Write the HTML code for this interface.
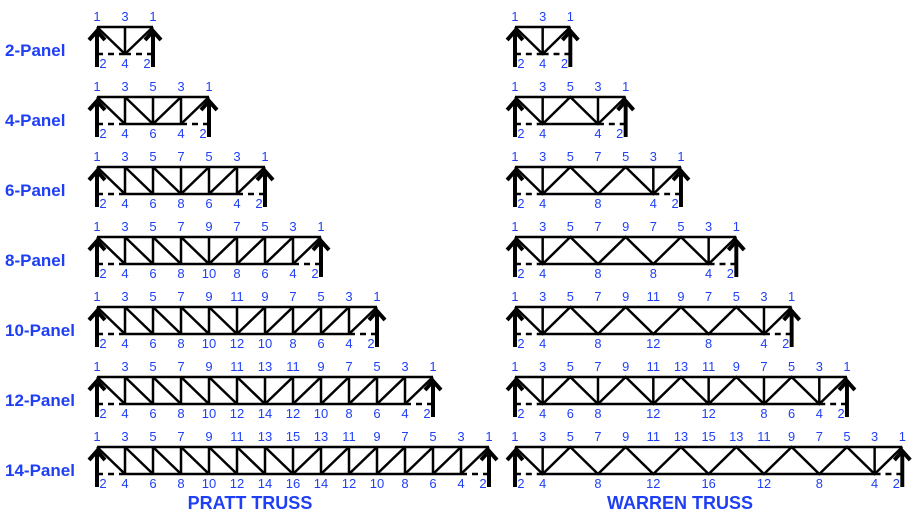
<!DOCTYPE html>
<html><head><meta charset="utf-8"><style>
body{margin:0;background:#fff;width:916px;height:516px;overflow:hidden}
svg{display:block}
.s{fill:none;stroke:#000;stroke-width:2.5}
.d{fill:none;stroke:#000;stroke-width:2.5;stroke-dasharray:6 5}
.a{fill:none;stroke:#000;stroke-width:4;stroke-linejoin:miter}
text{font-family:"Liberation Sans",Arial,sans-serif;fill:#1f3ff5}
.t text{font-size:13px;text-anchor:middle}
.lab{font-size:17px;font-weight:bold}
.ft{font-size:18px;font-weight:bold;text-anchor:middle}
</style></head><body>
<svg width="916" height="516" viewBox="0 0 916 516">
<defs><g id="ar"><path class="a" d="M0 3V40"/><path class="a" d="M-8 13L0 4L8 13"/></g></defs>
<text class="lab" x="5" y="56">2-Panel</text>
<text class="lab" x="5" y="126">4-Panel</text>
<text class="lab" x="5" y="196">6-Panel</text>
<text class="lab" x="5" y="266">8-Panel</text>
<text class="lab" x="5" y="336">10-Panel</text>
<text class="lab" x="5" y="406">12-Panel</text>
<text class="lab" x="5" y="476">14-Panel</text>
<text class="ft" x="250" y="509">PRATT TRUSS</text>
<text class="ft" x="680" y="509">WARREN TRUSS</text>

<!-- Row 0 n=2 -->
<g class="t" transform="translate(97,27)">
<path class="d" d="M0 27h28M28 27h28"/>
<path class="s" d="M0 0H56M28 0v27M0 0l28 27M56 0l-28 27"/>
<use href="#ar"/><use href="#ar" x="56"/>
<text x="0" y="-6">1</text><text x="28" y="-6">3</text><text x="56" y="-6">1</text>
<text x="6" y="41">2</text><text x="28" y="41">4</text><text x="50" y="41">2</text>
</g>
<g class="t" transform="translate(515,27) scale(0.988,1)">
<path class="d" d="M0 27h28M28 27h28"/>
<path class="s" d="M0 0H56M28 0v27M0 0l28 27l28 -27"/>
<use href="#ar"/><use href="#ar" x="56"/>
<text x="0" y="-6">1</text><text x="28" y="-6">3</text><text x="56" y="-6">1</text>
<text x="6" y="41">2</text><text x="28" y="41">4</text><text x="50" y="41">2</text>
</g>

<!-- Row 1 n=4 -->
<g class="t" transform="translate(97,97)">
<path class="d" d="M0 27h28M84 27h28"/>
<path class="s" d="M0 0H112M28 27H84M28 0v27M56 0v27M84 0v27M0 0l28 27M28 0l28 27M112 0l-28 27M84 0l-28 27"/>
<use href="#ar"/><use href="#ar" x="112"/>
<text x="0" y="-6">1</text><text x="28" y="-6">3</text><text x="56" y="-6">5</text><text x="84" y="-6">3</text><text x="112" y="-6">1</text>
<text x="6" y="41">2</text><text x="28" y="41">4</text><text x="56" y="41">6</text><text x="84" y="41">4</text><text x="106" y="41">2</text>
</g>
<g class="t" transform="translate(515,97) scale(0.988,1)">
<path class="d" d="M0 27h28M84 27h28"/>
<path class="s" d="M0 0H112M28 27H84M28 0v27M84 0v27M0 0l28 27l28 -27l28 27l28 -27"/>
<use href="#ar"/><use href="#ar" x="112"/>
<text x="0" y="-6">1</text><text x="28" y="-6">3</text><text x="56" y="-6">5</text><text x="84" y="-6">3</text><text x="112" y="-6">1</text>
<text x="6" y="41">2</text><text x="28" y="41">4</text><text x="84" y="41">4</text><text x="106" y="41">2</text>
</g>

<!-- Row 2 n=6 -->
<g class="t" transform="translate(97,167)">
<path class="d" d="M0 27h28M140 27h28"/>
<path class="s" d="M0 0H168M28 27H140M28 0v27M56 0v27M84 0v27M112 0v27M140 0v27M0 0l28 27M28 0l28 27M56 0l28 27M168 0l-28 27M140 0l-28 27M112 0l-28 27"/>
<use href="#ar"/><use href="#ar" x="168"/>
<text x="0" y="-6">1</text><text x="28" y="-6">3</text><text x="56" y="-6">5</text><text x="84" y="-6">7</text><text x="112" y="-6">5</text><text x="140" y="-6">3</text><text x="168" y="-6">1</text>
<text x="6" y="41">2</text><text x="28" y="41">4</text><text x="56" y="41">6</text><text x="84" y="41">8</text><text x="112" y="41">6</text><text x="140" y="41">4</text><text x="162" y="41">2</text>
</g>
<g class="t" transform="translate(515,167) scale(0.988,1)">
<path class="d" d="M0 27h28M140 27h28"/>
<path class="s" d="M0 0H168M28 27H140M28 0v27M140 0v27M0 0l28 27l28 -27l28 27l28 -27l28 27l28 -27"/>
<use href="#ar"/><use href="#ar" x="168"/>
<text x="0" y="-6">1</text><text x="28" y="-6">3</text><text x="56" y="-6">5</text><text x="84" y="-6">7</text><text x="112" y="-6">5</text><text x="140" y="-6">3</text><text x="168" y="-6">1</text>
<text x="6" y="41">2</text><text x="28" y="41">4</text><text x="84" y="41">8</text><text x="140" y="41">4</text><text x="162" y="41">2</text>
</g>

<!-- Row 3 n=8 -->
<g class="t" transform="translate(97,237)">
<path class="d" d="M0 27h28M196 27h28"/>
<path class="s" d="M0 0H224M28 27H196M28 0v27M56 0v27M84 0v27M112 0v27M140 0v27M168 0v27M196 0v27M0 0l28 27M28 0l28 27M56 0l28 27M84 0l28 27M224 0l-28 27M196 0l-28 27M168 0l-28 27M140 0l-28 27"/>
<use href="#ar"/><use href="#ar" x="224"/>
<text x="0" y="-6">1</text><text x="28" y="-6">3</text><text x="56" y="-6">5</text><text x="84" y="-6">7</text><text x="112" y="-6">9</text><text x="140" y="-6">7</text><text x="168" y="-6">5</text><text x="196" y="-6">3</text><text x="224" y="-6">1</text>
<text x="6" y="41">2</text><text x="28" y="41">4</text><text x="56" y="41">6</text><text x="84" y="41">8</text><text x="112" y="41">10</text><text x="140" y="41">8</text><text x="168" y="41">6</text><text x="196" y="41">4</text><text x="218" y="41">2</text>
</g>
<g class="t" transform="translate(515,237) scale(0.988,1)">
<path class="d" d="M0 27h28M196 27h28"/>
<path class="s" d="M0 0H224M28 27H196M28 0v27M196 0v27M0 0l28 27l28 -27l28 27l28 -27l28 27l28 -27l28 27l28 -27"/>
<use href="#ar"/><use href="#ar" x="224"/>
<text x="0" y="-6">1</text><text x="28" y="-6">3</text><text x="56" y="-6">5</text><text x="84" y="-6">7</text><text x="112" y="-6">9</text><text x="140" y="-6">7</text><text x="168" y="-6">5</text><text x="196" y="-6">3</text><text x="224" y="-6">1</text>
<text x="6" y="41">2</text><text x="28" y="41">4</text><text x="84" y="41">8</text><text x="140" y="41">8</text><text x="196" y="41">4</text><text x="218" y="41">2</text>
</g>

<!-- Row 4 n=10 -->
<g class="t" transform="translate(97,307)">
<path class="d" d="M0 27h28M252 27h28"/>
<path class="s" d="M0 0H280M28 27H252M28 0v27M56 0v27M84 0v27M112 0v27M140 0v27M168 0v27M196 0v27M224 0v27M252 0v27M0 0l28 27M28 0l28 27M56 0l28 27M84 0l28 27M112 0l28 27M280 0l-28 27M252 0l-28 27M224 0l-28 27M196 0l-28 27M168 0l-28 27"/>
<use href="#ar"/><use href="#ar" x="280"/>
<text x="0" y="-6">1</text><text x="28" y="-6">3</text><text x="56" y="-6">5</text><text x="84" y="-6">7</text><text x="112" y="-6">9</text><text x="140" y="-6">11</text><text x="168" y="-6">9</text><text x="196" y="-6">7</text><text x="224" y="-6">5</text><text x="252" y="-6">3</text><text x="280" y="-6">1</text>
<text x="6" y="41">2</text><text x="28" y="41">4</text><text x="56" y="41">6</text><text x="84" y="41">8</text><text x="112" y="41">10</text><text x="140" y="41">12</text><text x="168" y="41">10</text><text x="196" y="41">8</text><text x="224" y="41">6</text><text x="252" y="41">4</text><text x="274" y="41">2</text>
</g>
<g class="t" transform="translate(515,307) scale(0.988,1)">
<path class="d" d="M0 27h28M252 27h28"/>
<path class="s" d="M0 0H280M28 27H252M28 0v27M252 0v27M0 0l28 27l28 -27l28 27l28 -27l28 27l28 -27l28 27l28 -27l28 27l28 -27"/>
<use href="#ar"/><use href="#ar" x="280"/>
<text x="0" y="-6">1</text><text x="28" y="-6">3</text><text x="56" y="-6">5</text><text x="84" y="-6">7</text><text x="112" y="-6">9</text><text x="140" y="-6">11</text><text x="168" y="-6">9</text><text x="196" y="-6">7</text><text x="224" y="-6">5</text><text x="252" y="-6">3</text><text x="280" y="-6">1</text>
<text x="6" y="41">2</text><text x="28" y="41">4</text><text x="84" y="41">8</text><text x="140" y="41">12</text><text x="196" y="41">8</text><text x="252" y="41">4</text><text x="274" y="41">2</text>
</g>

<!-- Row 5 n=12 -->
<g class="t" transform="translate(97,377)">
<path class="d" d="M0 27h28M308 27h28"/>
<path class="s" d="M0 0H336M28 27H308M28 0v27M56 0v27M84 0v27M112 0v27M140 0v27M168 0v27M196 0v27M224 0v27M252 0v27M280 0v27M308 0v27M0 0l28 27M28 0l28 27M56 0l28 27M84 0l28 27M112 0l28 27M140 0l28 27M336 0l-28 27M308 0l-28 27M280 0l-28 27M252 0l-28 27M224 0l-28 27M196 0l-28 27"/>
<use href="#ar"/><use href="#ar" x="336"/>
<text x="0" y="-6">1</text><text x="28" y="-6">3</text><text x="56" y="-6">5</text><text x="84" y="-6">7</text><text x="112" y="-6">9</text><text x="140" y="-6">11</text><text x="168" y="-6">13</text><text x="196" y="-6">11</text><text x="224" y="-6">9</text><text x="252" y="-6">7</text><text x="280" y="-6">5</text><text x="308" y="-6">3</text><text x="336" y="-6">1</text>
<text x="6" y="41">2</text><text x="28" y="41">4</text><text x="56" y="41">6</text><text x="84" y="41">8</text><text x="112" y="41">10</text><text x="140" y="41">12</text><text x="168" y="41">14</text><text x="196" y="41">12</text><text x="224" y="41">10</text><text x="252" y="41">8</text><text x="280" y="41">6</text><text x="308" y="41">4</text><text x="330" y="41">2</text>
</g>
<g class="t" transform="translate(515,377) scale(0.988,1)">
<path class="d" d="M0 27h28M308 27h28"/>
<path class="s" d="M0 0H336M28 27H308M28 0v27M84 0v27M140 0v27M196 0v27M252 0v27M308 0v27M0 0l28 27l28 -27l28 27l28 -27l28 27l28 -27l28 27l28 -27l28 27l28 -27l28 27l28 -27"/>
<use href="#ar"/><use href="#ar" x="336"/>
<text x="0" y="-6">1</text><text x="28" y="-6">3</text><text x="56" y="-6">5</text><text x="84" y="-6">7</text><text x="112" y="-6">9</text><text x="140" y="-6">11</text><text x="168" y="-6">13</text><text x="196" y="-6">11</text><text x="224" y="-6">9</text><text x="252" y="-6">7</text><text x="280" y="-6">5</text><text x="308" y="-6">3</text><text x="336" y="-6">1</text>
<text x="6" y="41">2</text><text x="28" y="41">4</text><text x="56" y="41">6</text><text x="84" y="41">8</text><text x="140" y="41">12</text><text x="196" y="41">12</text><text x="252" y="41">8</text><text x="280" y="41">6</text><text x="308" y="41">4</text><text x="330" y="41">2</text>
</g>

<!-- Row 6 n=14 -->
<g class="t" transform="translate(97,447)">
<path class="d" d="M0 27h28M364 27h28"/>
<path class="s" d="M0 0H392M28 27H364M28 0v27M56 0v27M84 0v27M112 0v27M140 0v27M168 0v27M196 0v27M224 0v27M252 0v27M280 0v27M308 0v27M336 0v27M364 0v27M0 0l28 27M28 0l28 27M56 0l28 27M84 0l28 27M112 0l28 27M140 0l28 27M168 0l28 27M392 0l-28 27M364 0l-28 27M336 0l-28 27M308 0l-28 27M280 0l-28 27M252 0l-28 27M224 0l-28 27"/>
<use href="#ar"/><use href="#ar" x="392"/>
<text x="0" y="-6">1</text><text x="28" y="-6">3</text><text x="56" y="-6">5</text><text x="84" y="-6">7</text><text x="112" y="-6">9</text><text x="140" y="-6">11</text><text x="168" y="-6">13</text><text x="196" y="-6">15</text><text x="224" y="-6">13</text><text x="252" y="-6">11</text><text x="280" y="-6">9</text><text x="308" y="-6">7</text><text x="336" y="-6">5</text><text x="364" y="-6">3</text><text x="392" y="-6">1</text>
<text x="6" y="41">2</text><text x="28" y="41">4</text><text x="56" y="41">6</text><text x="84" y="41">8</text><text x="112" y="41">10</text><text x="140" y="41">12</text><text x="168" y="41">14</text><text x="196" y="41">16</text><text x="224" y="41">14</text><text x="252" y="41">12</text><text x="280" y="41">10</text><text x="308" y="41">8</text><text x="336" y="41">6</text><text x="364" y="41">4</text><text x="386" y="41">2</text>
</g>
<g class="t" transform="translate(515,447) scale(0.988,1)">
<path class="d" d="M0 27h28M364 27h28"/>
<path class="s" d="M0 0H392M28 27H364M28 0v27M364 0v27M0 0l28 27l28 -27l28 27l28 -27l28 27l28 -27l28 27l28 -27l28 27l28 -27l28 27l28 -27l28 27l28 -27"/>
<use href="#ar"/><use href="#ar" x="392"/>
<text x="0" y="-6">1</text><text x="28" y="-6">3</text><text x="56" y="-6">5</text><text x="84" y="-6">7</text><text x="112" y="-6">9</text><text x="140" y="-6">11</text><text x="168" y="-6">13</text><text x="196" y="-6">15</text><text x="224" y="-6">13</text><text x="252" y="-6">11</text><text x="280" y="-6">9</text><text x="308" y="-6">7</text><text x="336" y="-6">5</text><text x="364" y="-6">3</text><text x="392" y="-6">1</text>
<text x="6" y="41">2</text><text x="28" y="41">4</text><text x="84" y="41">8</text><text x="140" y="41">12</text><text x="196" y="41">16</text><text x="252" y="41">12</text><text x="308" y="41">8</text><text x="364" y="41">4</text><text x="386" y="41">2</text>
</g>
</svg>
</body></html>
